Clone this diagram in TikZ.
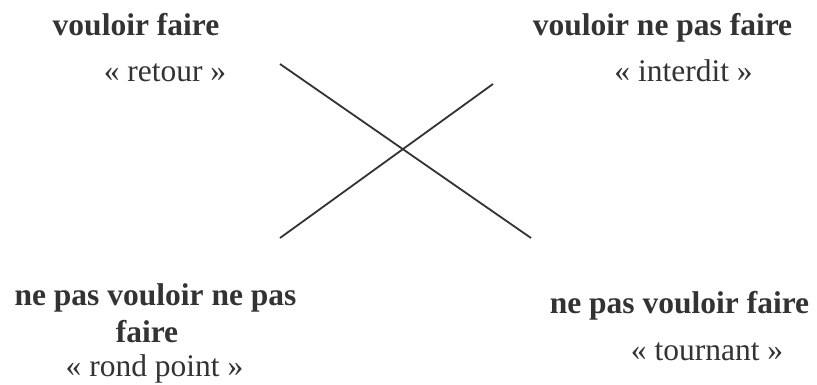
\documentclass[tikz,border=0pt]{standalone}
\usepackage{fontspec}
\setmainfont{Liberation Serif}
\definecolor{ink}{HTML}{333333}
\begin{document}
\begin{tikzpicture}[x=1pt,y=-1pt,
  lbl/.style={anchor=base,inner sep=0pt,text=ink,font=\fontsize{31.5}{35}\selectfont\bfseries},
  sub/.style={anchor=base,inner sep=0pt,text=ink,font=\fontsize{31.5}{35}\selectfont},
  axis/.style={draw=ink,line width=1.8pt}]
\useasboundingbox[fill=white] (0,0) rectangle (817,385);
\node[lbl] (tl) at (136,36) {vouloir faire};
\node[sub] (tls) at (165,82) {« retour »};
\node[lbl] (tr) at (662.5,36) {vouloir ne pas faire};
\node[sub] (trs) at (683.5,82) {« interdit »};
\node[lbl] (bl1) at (155.5,305) {ne pas vouloir ne pas};
\node[lbl] (bl2) at (147,342) {faire};
\node[sub] (bls) at (154.5,376) {« rond point »};
\node[lbl] (br) at (679.5,313) {ne pas vouloir faire};
\node[sub] (brs) at (707,360) {« tournant »};
\coordinate (a1) at (280,64);
\coordinate (a2) at (531,238);
\coordinate (b1) at (280,238);
\coordinate (b2) at (493,84);
\draw[axis] (a1) -- (a2);
\draw[axis] (b1) -- (b2);
\end{tikzpicture}
\end{document}
